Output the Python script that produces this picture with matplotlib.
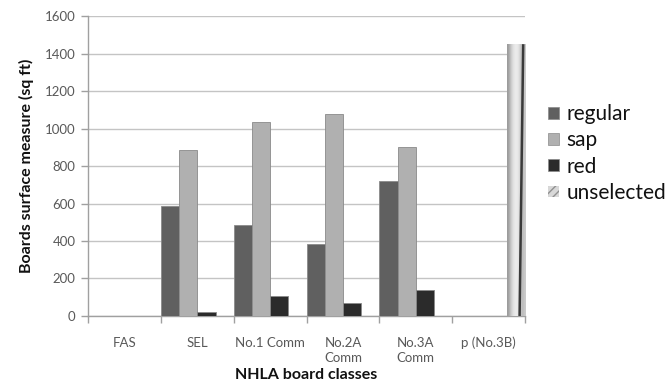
import numpy as np
import matplotlib.pyplot as plt
from matplotlib.patches import Patch

plt.rcParams['font.family'] = ['Lato', 'DejaVu Sans']

# board surface measure per NHLA grade
classes = ['FAS', 'SEL', 'No.1 Comm', 'No.2A\nComm', 'No.3A\nComm', 'p (No.3B)']
regular = [0, 585, 485, 385, 718, 0]
sap = [0, 885, 1035, 1077, 900, 0]
red = [0, 23, 105, 70, 137, 0]
unselected = [0, 0, 0, 0, 0, 1450]

series = [('regular', regular, '#606060'),
          ('sap', sap, '#b0b0b0'),
          ('red', red, '#2b2b2b')]

fig = plt.figure(figsize=(6.68, 3.83), dpi=100)
ax = fig.add_axes([0.132, 0.175, 0.654, 0.783])

x = np.arange(len(classes))
w = 0.25
for i, (name, vals, col) in enumerate(series):
    ax.bar(x + (i - 1.5) * w, vals, width=w, color=col, edgecolor='#8a8a8a',
           linewidth=0.6, zorder=3)

# unselected bars get a shaded fill with a dark streak
unsel = ax.bar(x + 1.5 * w, unselected, width=w, facecolor='none',
               edgecolor='none', zorder=3)
grad = np.array([[0.6, 0.8, 0.9, 0.93, 0.88, 0.7, 0.8]])
for b, v in zip(unsel, unselected):
    if v <= 0:
        continue
    x0, x1 = b.get_x(), b.get_x() + b.get_width()
    im = ax.imshow(grad, cmap='gray', vmin=0, vmax=1, aspect='auto',
                   extent=(x0, x1, 0, v), zorder=3, interpolation='bicubic')
    im.set_clip_path(b)
    ax.plot([x0 + 0.9 * (x1 - x0), x0 + 0.7 * (x1 - x0)], [v, 0],
            color='#3a3a3a', lw=1.8, zorder=4, solid_capstyle='butt')
ax.set_xlim(-0.5, len(classes) - 0.5)

ax.set_ylim(0, 1600)
ax.set_yticks(np.arange(0, 1601, 200))
ax.yaxis.grid(True, color='#c4c4c4', linewidth=1.0, zorder=0)
ax.set_axisbelow(True)

ax.set_xticks(x)
ax.set_xticklabels(classes, fontsize=9.5, color='#595959', linespacing=1.3)
ax.set_xticks(np.arange(-0.5, len(classes), 1.0), minor=True)
ax.tick_params(axis='x', which='major', length=0, pad=15)
ax.tick_params(axis='x', which='minor', length=5, color='#a0a0a0', width=1)
ax.tick_params(axis='y', length=5, color='#a0a0a0', width=1,
               labelsize=9.5, labelcolor='#595959', pad=4)

for s in ['top', 'right']:
    ax.spines[s].set_visible(False)
for s in ['left', 'bottom']:
    ax.spines[s].set_color('#a0a0a0')
    ax.spines[s].set_linewidth(1)

ax.set_ylabel('Boards surface measure (sq ft)', fontsize=11.5, fontweight='bold',
              color='#111111', labelpad=8)
ax.set_xlabel('NHLA board classes', fontsize=11.5, fontweight='bold',
              color='#111111', labelpad=3)

handles = [Patch(facecolor=c, edgecolor='#8a8a8a', linewidth=0.5)
           for _, _, c in series]
handles.append(Patch(facecolor='#d8d8d8', edgecolor='#909090', hatch='////',
                     linewidth=0))
labels = [n for n, _, _ in series] + ['unselected']
fig.legend(handles, labels, loc='center left', bbox_to_anchor=(0.793, 0.599),
           frameon=False, fontsize=15, handlelength=0.5, handleheight=0.5,
           handletextpad=0.35, labelspacing=0.3, labelcolor='#111111')

fig.savefig('out.png', dpi=100)
